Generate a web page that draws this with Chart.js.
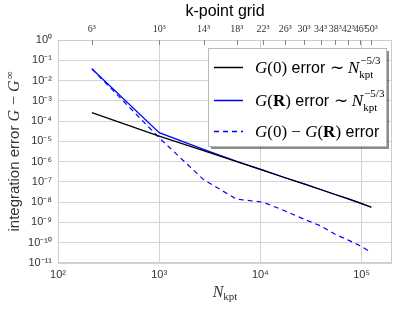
<!DOCTYPE html>
<html>
<head>
<meta charset="utf-8">
<script src="https://cdn.jsdelivr.net/npm/chart.js@4.4.1/dist/chart.umd.min.js"></script>
<style>
  html, body { margin: 0; padding: 0; background: #fff; }
  #wrap { width: 399px; height: 310px; }
</style>
</head>
<body>
<div id="wrap"><canvas id="chart" width="399" height="310"></canvas></div>
<script>
// k-point grids and the number of k-points
const gridLabels = ["6³", "10³", "14³", "18³", "22³", "26³", "30³", "34³", "38³", "42³", "46³", "50³"];
const nKpt = [216, 1000, 2744, 5832, 10648, 17576, 27000, 39304, 54872, 74088, 97336, 125000];

// integration errors
const errG0 = [2.6e-4, 1.8e-5, 3.5e-6, 1.0e-6, 3.7e-7, 1.6e-7, 8.0e-8, 4.2e-8, 2.4e-8, 1.45e-8, 9.0e-9, 5.6e-9];
const errGR = [3.8e-2, 2.7e-5, 4.0e-6, 1.05e-6, 3.8e-7, 1.6e-7, 8.0e-8, 4.2e-8, 2.4e-8, 1.45e-8, 9.0e-9, 5.6e-9];
const errDiff = [3.8e-2, 1.5e-5, 1.3e-7, 1.4e-8, 1.0e-8, 3.7e-9, 1.45e-9, 6.8e-10, 2.6e-10, 1.35e-10, 7.0e-11, 3.3e-11];

const xTicks = [1e2, 1e3, 1e4, 1e5];
const yTicks = [1, 1e-1, 1e-2, 1e-3, 1e-4, 1e-5, 1e-6, 1e-7, 1e-8, 1e-9, 1e-10, 1e-11];

const sup = { "0": "⁰", "1": "¹", "2": "²", "3": "³", "4": "⁴", "5": "⁵", "6": "⁶", "7": "⁷", "8": "⁸", "9": "⁹", "-": "⁻" };
const pow10 = v => "10" + String(Math.round(Math.log10(v))).split("").map(c => sup[c]).join("");

const SANS = "'Liberation Sans', Arial, sans-serif";
const SERIF = "'Liberation Serif', 'Times New Roman', serif";
const TEXT = "#333333";
const GRID = "#d4d4d4";

const pts = ys => nKpt.map((n, i) => ({ x: n, y: ys[i] }));

// draws a row of text pieces with their own fonts
const drawRuns = (ctx, x, y, runs) => {
  runs.forEach(r => {
    ctx.font = r.f;
    ctx.fillText(r.t, x, y + (r.dy || 0));
    if (r.adv !== false) x += ctx.measureText(r.t).width + (r.gap || 0);
  });
  return x;
};

const decorations = {
  id: "decorations",
  afterDraw(chart) {
    const { ctx, chartArea: a, scales } = chart;
    ctx.save();
    // frame
    ctx.strokeStyle = "#cccccc";
    ctx.lineWidth = 1;
    ctx.strokeRect(a.left + 0.5, a.top + 0.5, a.right - a.left - 1, a.bottom - a.top - 1);
    // inward ticks of the top axis
    ctx.strokeStyle = "#888";
    nKpt.forEach(n => {
      const px = Math.round(scales.x2.getPixelForValue(n)) + 0.5;
      ctx.beginPath();
      ctx.moveTo(px, a.top);
      ctx.lineTo(px, a.top + 5);
      ctx.stroke();
    });

    ctx.fillStyle = TEXT;
    ctx.textBaseline = "alphabetic";
    ctx.textAlign = "left";
    // bottom axis title
    const it = "italic 16px " + SERIF;
    const sm = "11px " + SERIF;
    ctx.font = it;
    const wN = ctx.measureText("N").width;
    ctx.font = sm;
    const wk = ctx.measureText("kpt").width;
    const cx = (a.left + a.right) / 2;
    drawRuns(ctx, cx - (wN + wk) / 2, 297, [
      { t: "N", f: it },
      { t: "kpt", f: sm, dy: 3 }
    ]);

    // left axis title, rotated
    ctx.save();
    ctx.translate(19, (a.top + a.bottom) / 2);
    ctx.rotate(-Math.PI / 2);
    const yr = [
      { t: "integration error ", f: "15px " + SANS },
      { t: "G", f: "italic 16px " + SERIF, gap: 1 },
      { t: " − ", f: "16px " + SERIF },
      { t: "G", f: "italic 16px " + SERIF, gap: 1 },
      { t: "∞", f: "11px " + SERIF, dy: -6 }
    ];
    let w = 0;
    yr.forEach(r => { ctx.font = r.f; w += ctx.measureText(r.t).width + (r.gap || 0); });
    drawRuns(ctx, -w / 2, 0, yr);
    ctx.restore();

    // legend box with shadow
    const bx = 208, by = 48, bw = 178, bh = 98;
    ctx.fillStyle = "rgba(0,0,0,0.45)";
    ctx.fillRect(bx + 3, by + 3, bw, bh);
    ctx.fillStyle = "#fff";
    ctx.fillRect(bx, by, bw, bh);
    ctx.strokeStyle = "#bbbbbb";
    ctx.strokeRect(bx + 0.5, by + 0.5, bw, bh);

    const rows = [67, 100, 131];
    const ds = chart.data.datasets;
    rows.forEach((ry, i) => {
      ctx.strokeStyle = ds[i].borderColor;
      ctx.lineWidth = 1.5;
      ctx.setLineDash(i === 2 ? [5, 4] : []);
      ctx.beginPath();
      ctx.moveTo(214, ry + 0.5);
      ctx.lineTo(243, ry + 0.5);
      ctx.stroke();
    });
    ctx.setLineDash([]);
    ctx.fillStyle = "#000";
    const mi = "italic 17px " + SERIF;
    const mr = "17px " + SERIF;
    const mb = "bold 17px " + SERIF;
    const tx = "16px " + SANS;
    const sc = "11px " + SERIF;
    const powerTail = (x, y) => {
      ctx.font = sc;
      ctx.fillText("kpt", x, y + 5);
      ctx.fillText("−5/3", x + 1, y - 9);
    };
    let x = drawRuns(ctx, 255, rows[0] + 6, [
      { t: "G", f: mi }, { t: "(0)", f: mr }, { t: " error ", f: tx }, { t: "∼ ", f: mr }, { t: "N", f: mi }
    ]);
    powerTail(x, rows[0] + 6);
    x = drawRuns(ctx, 255, rows[1] + 6, [
      { t: "G", f: mi }, { t: "(", f: mr }, { t: "R", f: mb }, { t: ")", f: mr },
      { t: " error ", f: tx }, { t: "∼ ", f: mr }, { t: "N", f: mi }
    ]);
    powerTail(x, rows[1] + 6);
    drawRuns(ctx, 255, rows[2] + 6, [
      { t: "G", f: mi }, { t: "(0)", f: mr }, { t: " − ", f: mr }, { t: "G", f: mi },
      { t: "(", f: mr }, { t: "R", f: mb }, { t: ")", f: mr }, { t: " error", f: tx }
    ]);
    ctx.restore();
  }
};

new Chart(document.getElementById("chart"), {
  type: "line",
  data: {
    datasets: [
      { label: "G(0) error", data: pts(errG0), borderColor: "#000000", borderWidth: 1.2 },
      { label: "G(R) error", data: pts(errGR), borderColor: "#0000ff", borderWidth: 1.2 },
      { label: "G(0) - G(R) error", data: pts(errDiff), borderColor: "#0000ff", borderWidth: 1.2, borderDash: [5, 4] }
    ]
  },
  options: {
    responsive: false,
    animation: false,
    parsing: false,
    elements: { point: { radius: 0 }, line: { tension: 0 } },
    layout: { padding: { left: 0, right: 7, top: 0, bottom: 0 } },
    plugins: { legend: { display: false }, tooltip: { enabled: false } },
    scales: {
      x: {
        type: "logarithmic",
        position: "bottom",
        min: 100, max: 2e5,
        afterBuildTicks: s => { s.ticks = xTicks.map(v => ({ value: v })); },
        afterFit: s => { s.height = 47; },
        ticks: { color: TEXT, font: { family: SANS, size: 11 }, padding: 5, maxRotation: 0, callback: v => pow10(v) },
        grid: { color: GRID, drawTicks: false },
        border: { display: false }
      },
      x2: {
        type: "logarithmic",
        position: "top",
        min: 100, max: 2e5,
        afterBuildTicks: s => { s.ticks = nKpt.map(v => ({ value: v })); },
        afterFit: s => { s.height = 40; },
        ticks: { color: TEXT, font: { family: SERIF, size: 10 }, padding: 5, maxRotation: 0, autoSkip: false,
                 callback: (v, i) => gridLabels[i] },
        grid: { display: false, drawTicks: false },
        border: { display: false },
        title: { display: true, text: "k-point grid", color: "#000", font: { family: SANS, size: 16 }, padding: { top: 2, bottom: 1 } }
      },
      y: {
        type: "logarithmic",
        min: 1e-11, max: 1,
        afterBuildTicks: s => { s.ticks = yTicks.map(v => ({ value: v })); },
        afterFit: s => { s.width = 58; },
        ticks: { color: TEXT, font: { family: SANS, size: 11 }, padding: 6, callback: v => pow10(v) },
        grid: { color: GRID, drawTicks: false },
        border: { display: false }
      }
    }
  },
  plugins: [decorations]
});
</script>
</body>
</html>
